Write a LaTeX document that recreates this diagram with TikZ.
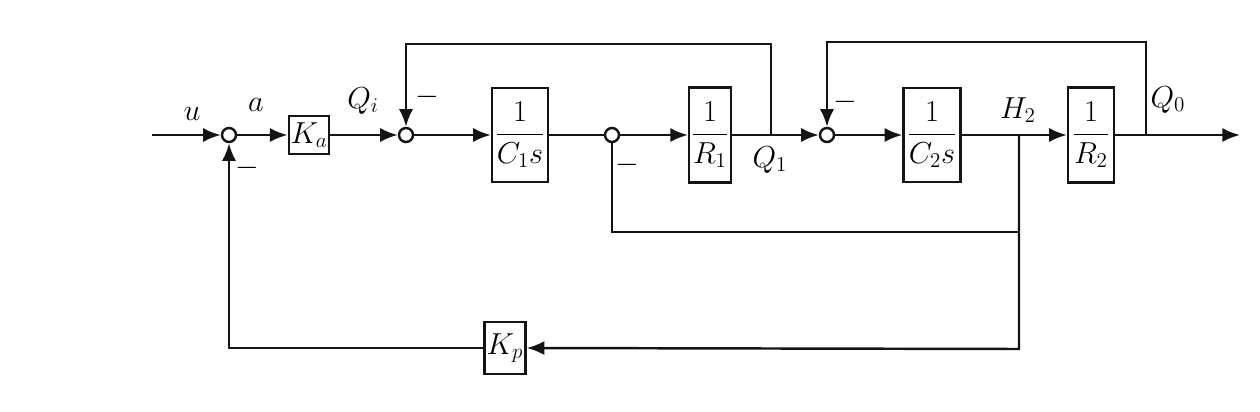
\documentclass[tikz,border=0pt]{standalone}
\usepackage{amsmath}
\usepackage{tikz}
\usetikzlibrary{arrows.meta, positioning, calc}
\definecolor{mydark}{RGB}{20,20,20}
\tikzset{
  block/.style={rectangle, draw=mydark, fill=white, inner sep=1pt,
    align=center, font=\LARGE, line width=1.4pt},
  arrow/.style={-{Latex[length=10pt,width=8pt]}, line width=1.4pt, color=mydark},
  line/.style={line width=1.4pt, color=mydark}
}

\begin{document}
\begin{tikzpicture}[x=0.02cm, y=-0.02cm,
  junc/.style={circle, draw=mydark, fill=white, minimum size=0.28cm,
    inner sep=0pt, line width=1.4pt},
  lbl/.style={font=\LARGE, inner sep=0pt}]

  \useasboundingbox (0,0) rectangle (1260,412);

  % Input
  \coordinate (in) at (152,135);
  \node[lbl] (u) at (192,114) {$u$};

  % First comparison and gain
  \node[junc] (sum1) at (229,135) {};
  \node[lbl] (a) at (256,105) {$a$};
  \node[lbl] (m1) at (247,168) {$-$};
  \node[block, minimum width=0.64cm, minimum height=0.76cm] (ka) at (309,135) {$K_a$};
  \draw[arrow] (in) -- (sum1.west);
  \draw[arrow] (sum1) -- (ka);

  % Tank 1
  \node[lbl] (qi) at (363,101) {$Q_i$};
  \node[junc] (sum2) at (406,135) {};
  \node[lbl] (m2) at (427,97) {$-$};
  \node[block, minimum width=1.12cm, minimum height=1.88cm] (c1) at (520,135) {$\dfrac{1}{C_1 s}$};
  \draw[arrow] (ka) -- (sum2.west);
  \draw[arrow] (sum2) -- (c1);

  % Valve 1
  \node[junc] (sum3) at (612,135) {};
  \node[lbl] (m3) at (627,165) {$-$};
  \node[block, minimum width=0.76cm, minimum height=1.9cm] (r1) at (710,135) {$\dfrac{1}{R_1}$};
  \draw[line] (c1) -- (sum3.west);
  \draw[arrow] (sum3) -- (r1);

  % Tank 2
  \coordinate (q1pt) at (771,135);
  \node[lbl] (q1) at (770,160) {$Q_1$};
  \node[junc] (sum4) at (827,135) {};
  \node[lbl] (m4) at (845,102) {$-$};
  \node[block, minimum width=1.14cm, minimum height=1.88cm] (c2) at (932,135) {$\dfrac{1}{C_2 s}$};
  \draw[arrow] (r1) -- (sum4.west);
  \draw[arrow] (sum4) -- (c2);

  % Valve 2 and output
  \coordinate (h2pt) at (1019,135);
  \node[lbl] (h2) at (1018,110) {$H_2$};
  \node[block, minimum width=0.92cm, minimum height=1.9cm] (r2) at (1091,135) {$\dfrac{1}{R_2}$};
  \coordinate (q0pt) at (1146,135);
  \node[lbl] (q0) at (1168,100) {$Q_0$};
  \coordinate (out) at (1240,135);
  \draw[arrow] (c2) -- (r2);
  \draw[arrow] (r2) -- (out);

  % Upper loops
  \coordinate (top1) at (771,44);
  \coordinate (top2) at (1146,42);
  \draw[arrow] (q1pt) -- (top1) -| (sum2.north);
  \draw[arrow] (q0pt) -- (top2) -| (sum4.north);

  % Level loop to sum3
  \coordinate (lowtap) at (1019,232);
  \draw[line] (sum3.south) |- (lowtap);

  % Sensor feedback
  \coordinate (fbk) at (1019,349);
  \node[block, minimum width=0.82cm, minimum height=1.04cm] (kp) at (505,348) {$K_p$};
  \draw[arrow] (h2pt) -- (fbk) -- (kp.east);
  \draw[arrow] (kp.west) -| (sum1.south);
\end{tikzpicture}
\end{document}
